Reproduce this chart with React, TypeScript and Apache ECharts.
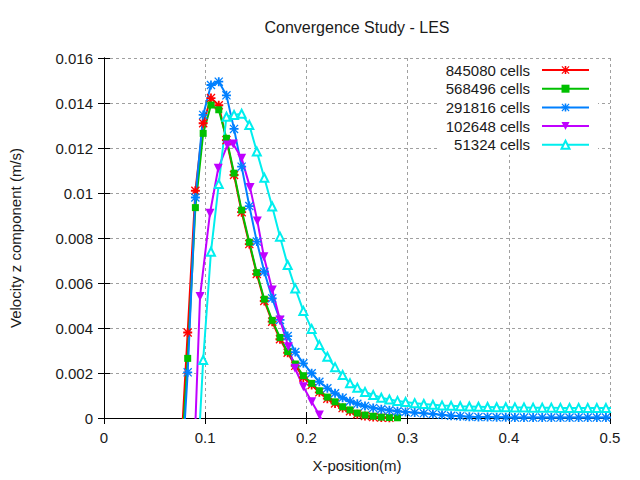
import { useEffect, useRef } from "react";
import * as echarts from "echarts";

const seriesNames = ["845080 cells", "568496 cells", "291816 cells", "102648 cells", "51324 cells"];
const seriesColors = ["#ff0000", "#00c000", "#0080ff", "#c000ff", "#00eeee"];

const xTicks = [0, 0.1, 0.2, 0.3, 0.4, 0.5];
const yTicks = [0, 0.002, 0.004, 0.006, 0.008, 0.01, 0.012, 0.014, 0.016];

// shared sample positions (m)
const xMain = [
  0.0752, 0.0827, 0.0903, 0.098, 0.1057, 0.1134, 0.121, 0.1285, 0.136, 0.1436,
  0.151, 0.1584, 0.1662, 0.1739, 0.1815, 0.189, 0.197, 0.2052, 0.2128, 0.2207,
  0.2283, 0.2358, 0.2431, 0.2503, 0.2579, 0.266, 0.274, 0.282, 0.29, 0.298,
  0.307, 0.316, 0.325, 0.334, 0.343, 0.352, 0.361, 0.37, 0.379, 0.388,
  0.397, 0.406, 0.415, 0.424, 0.433, 0.442, 0.451, 0.46, 0.469, 0.478,
  0.487, 0.496, 0.505,
];

const v845080 = [
  -0.0022, 0.0038, 0.0101, 0.0131, 0.01422, 0.0139, 0.01235, 0.0108, 0.00915, 0.00773,
  0.0064, 0.0052, 0.00428, 0.0035, 0.0029, 0.00232, 0.0018, 0.00147, 0.00114, 0.00086,
  0.00065, 0.00044, 0.0003, 0.00017, 0.00009, 0.00004, 0.00002, 0.00001, -0.0006,
];

const v568496 = [
  -0.0027, 0.00265, 0.00935, 0.01265, 0.01391, 0.0137, 0.01243, 0.01088, 0.00924, 0.00781,
  0.00646, 0.00528, 0.00434, 0.00358, 0.00295, 0.0024, 0.00188, 0.00154, 0.00121, 0.00093,
  0.00072, 0.0005, 0.00036, 0.00022, 0.00013, 0.00008, 0.00004, 0.00002, 0.00001, -0.0005,
];

const v291816 = [
  -0.0036, 0.00203, 0.0098, 0.01347, 0.0148, 0.01495, 0.01434, 0.01285, 0.01117, 0.00942,
  0.00784, 0.0065, 0.00532, 0.00436, 0.00364, 0.00293, 0.00243, 0.00199, 0.00161, 0.00132,
  0.0011, 0.0009, 0.00075, 0.00063, 0.00053, 0.00045, 0.00039, 0.00034, 0.0003, 0.00027,
  0.00024, 0.00021, 0.00018, 0.00014, 0.0001, 0.00008, 0.00006, 0.00005, 0.00004, 0.00003,
  0.00003, 0.00002, 0.00002, 0.00002, 0.00002, 0.00002, 0.00002, 0.00002, 0.00002, 0.00002,
  0.00002, 0.00002, 0.00002,
];

const x102648 = [
  0.0866, 0.0949, 0.1047, 0.1129, 0.1219, 0.1277, 0.136, 0.1443, 0.1515, 0.158,
  0.1663, 0.1739, 0.1822, 0.1887, 0.197, 0.2052, 0.2128, 0.2207,
];
const v102648 = [
  -0.0048, 0.0054, 0.0091, 0.0111, 0.01213, 0.01218, 0.01154, 0.01025, 0.00876, 0.00717,
  0.00569, 0.00436, 0.00317, 0.00221, 0.00139, 0.00072, 0.00013, -0.0006,
];

const v51324 = [
  null, null, -0.0039, 0.00258, 0.00739, 0.0104, 0.01339, 0.01347, 0.01352, 0.01302,
  0.01184, 0.01068, 0.0094, 0.00806, 0.0068, 0.00576, 0.00476, 0.00396, 0.00324, 0.00272,
  0.00226, 0.00191, 0.00154, 0.00135, 0.00116, 0.00102, 0.0009, 0.00082, 0.00076, 0.00071,
  0.00066, 0.00062, 0.00059, 0.00056, 0.00054, 0.00052, 0.00051, 0.0005, 0.00049, 0.00048,
  0.00048, 0.00047, 0.00047, 0.00046, 0.00046, 0.00046, 0.00045, 0.00045, 0.00045, 0.00045,
  0.00044, 0.00044, 0.00044,
];

const ASTERISK =
  "path://M4,0H6V10H4Z M0,4H10V6H0Z M0,1L1,0L10,9L9,10Z M9,0L10,1L1,10L0,9Z";

const FONT = "Liberation Sans";

function zip(xs: number[], ys: (number | null)[]) {
  const out: number[][] = [];
  ys.forEach((y, i) => {
    if (y !== null && y !== undefined && i < xs.length) out.push([xs[i], y]);
  });
  return out;
}

export default function App() {
  const ref = useRef<HTMLDivElement>(null);
  useEffect(() => {
    if (!ref.current) return;
    const chart = echarts.init(ref.current, undefined, { renderer: "svg" });

    const textColor = "#1a1a1a";
    const axisCommon = {
      type: "value" as const,
      axisLine: { show: true, lineStyle: { color: "#000", width: 1 } },
      axisTick: { show: true, inside: true, length: 6, lineStyle: { color: "#000" } },
    };

    const makeSeries = (
      i: number,
      data: number[][],
      symbol: string,
      size: number,
      extra: any = {}
    ) => ({
      name: seriesNames[i],
      type: "line",
      data,
      symbol,
      symbolSize: size,
      showAllSymbol: true,
      clip: true,
      lineStyle: { color: seriesColors[i], width: 2 },
      itemStyle: { color: seriesColors[i] },
      emphasis: { disabled: true },
      ...extra,
    });

    chart.setOption({
      animation: false,
      backgroundColor: "#fff",
      textStyle: { fontFamily: FONT },
      title: {
        text: "Convergence Study - LES",
        left: 357,
        top: 19,
        textAlign: "center",
        padding: 0,
        textStyle: { fontFamily: FONT, fontSize: 16, fontWeight: "normal", color: textColor },
      },
      grid: { left: 104, right: 30, top: 58, bottom: 62, containLabel: false },
      legend: {
        orient: "vertical",
        right: 42,
        top: 60,
        align: "right",
        itemWidth: 47,
        itemHeight: 10,
        itemGap: 2.7,
        padding: [2, 8, 2, 8],
        backgroundColor: "#fff",
        data: seriesNames,
        textStyle: {
          fontFamily: FONT,
          fontSize: 15,
          color: textColor,
          lineHeight: 16,
          padding: [0, 7, 0, 0],
        },
      },
      xAxis: [
        {
          ...axisCommon,
          position: "bottom",
          min: 0,
          max: 0.5,
          interval: 0.1,
          name: "X-position(m)",
          nameLocation: "middle",
          nameGap: 40,
          nameTextStyle: { fontFamily: FONT, fontSize: 15, color: textColor },
          axisLabel: {
            margin: 12,
            fontFamily: FONT,
            fontSize: 15,
            color: textColor,
            formatter: (v: number) => {
              const t = xTicks.find((k) => Math.abs(k - v) < 1e-9);
              return String(t ?? v);
            },
          },
          splitLine: { show: true, lineStyle: { color: "#a0a0a0", type: [3, 3], width: 1 } },
        },
        {
          ...axisCommon,
          position: "top",
          min: 0,
          max: 0.5,
          interval: 0.1,
          axisLabel: { show: false },
          splitLine: { show: false },
        },
      ],
      yAxis: [
        {
          ...axisCommon,
          position: "left",
          min: 0,
          max: 0.016,
          interval: 0.002,
          name: "Velocity z component (m/s)",
          nameLocation: "middle",
          nameGap: 81,
          nameTextStyle: { fontFamily: FONT, fontSize: 15, color: textColor },
          axisLabel: {
            margin: 11,
            fontFamily: FONT,
            fontSize: 15,
            color: textColor,
            formatter: (v: number) => {
              const t = yTicks.find((k) => Math.abs(k - v) < 1e-9);
              return String(t ?? v);
            },
          },
          splitLine: { show: true, lineStyle: { color: "#a0a0a0", type: [3, 3], width: 1 } },
        },
        {
          ...axisCommon,
          position: "right",
          min: 0,
          max: 0.016,
          interval: 0.002,
          axisLabel: { show: false },
          splitLine: { show: false },
        },
      ],
      series: [
        makeSeries(0, zip(xMain, v845080), ASTERISK, 9),
        makeSeries(1, zip(xMain, v568496), "rect", 7),
        makeSeries(2, zip(xMain, v291816), ASTERISK, 9),
        makeSeries(3, zip(x102648, v102648), "path://M0,0H10L5,9Z", 9),
        makeSeries(4, zip(xMain, v51324), "emptyTriangle", 8, {
          itemStyle: { color: seriesColors[4], borderColor: seriesColors[4], borderWidth: 2 },
        }),
      ],
    });

    return () => chart.dispose();
  }, []);

  return <div ref={ref} style={{ width: 640, height: 480, position: "absolute", left: 0, top: 0 }} />;
}
